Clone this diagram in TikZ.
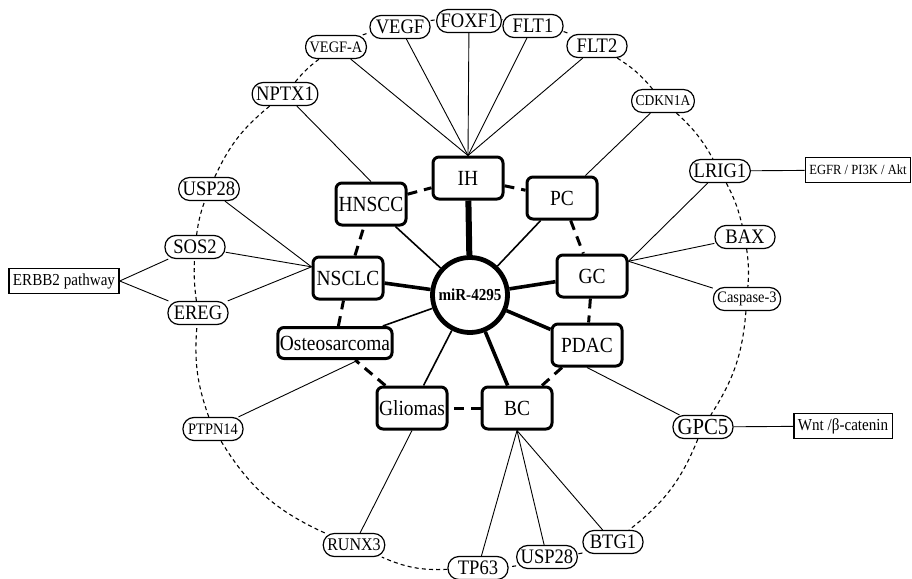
\documentclass[tikz,border=0pt]{standalone}
\usepackage{fontspec}
\setmainfont{Liberation Serif}[FakeStretch=0.9]

\begin{document}
\begin{tikzpicture}[
                hub/.style={
                    circle,
                    draw,
                    fill=white,
                    line width=2.4pt,
                    minimum size=37.5pt,
                    inner sep=0pt,
                    font=\bfseries\fontsize{8.4}{10}\selectfont
                },
                disease/.style={
                    rectangle,
                    draw,
                    fill=white,
                    rounded corners=3pt,
                    line width=1.5pt,
                    minimum width=35pt,
                    minimum height=21pt,
                    inner sep=1pt,
                    font=\fontsize{10.8}{12}\selectfont
                },
                gene/.style={
                    rectangle,
                    draw,
                    fill=white,
                    rounded corners=5.5pt,
                    line width=0.6pt,
                    minimum width=30pt,
                    minimum height=11.5pt,
                    inner xsep=2pt,
                    inner ysep=0.5pt,
                    font=\fontsize{10.3}{12}\selectfont
                },
                smallgene/.style={
                    gene,
                    font=\fontsize{8}{10}\selectfont
                },
                pathway/.style={
                    rectangle,
                    draw,
                    fill=white,
                    line width=0.7pt,
                    minimum height=12.5pt,
                    inner xsep=2pt,
                    inner ysep=0.5pt,
                    font=\fontsize{8.4}{10}\selectfont
                },
                ring/.style={
                    dash pattern=on 5pt off 3.5pt,
                    line width=1.5pt
                },
                orbit/.style={
                    dash pattern=on 2pt off 1.6pt,
                    line width=0.55pt
                },
                link/.style={
                    line width=0.45pt
                },
                x=0.5pt,
                y=0.5pt
            ]

        \useasboundingbox (0,0) rectangle (912,-579);

        % Centre
        \node[hub] (mir) at (470,-295) {miR-4295};

        % Diseases
        \node[disease] (ih) at (468,-178) {IH};
        \node[disease] (pc) at (562,-198) {PC};
        \node[disease] (gc) at (592,-276) {GC};
        \node[disease] (pdac) at (587,-345) {PDAC};
        \node[disease] (bc) at (517,-408) {BC};
        \node[disease] (gliomas) at (412,-408) {Gliomas};
        \node[disease, minimum height=15.5pt] (osteo) at (335,-343) {Osteosarcoma};
        \node[disease] (nsclc) at (348,-278) {NSCLC};
        \node[disease] (hnscc) at (371,-204) {HNSCC};

        % Targets, outer ring
        \node[gene] (foxf) at (469,-21) {FOXF1};
        \node[gene] (flta) at (533,-26) {FLT1};
        \node[gene] (fltb) at (597,-46) {FLT2};
        \node[smallgene, font=\fontsize{7.5}{9}\selectfont] (cdkn) at (663,-101) {CDKN1A};
        \node[gene] (lrig) at (720,-171) {LRIG1};
        \node[gene] (bax) at (745,-237) {BAX};
        \node[smallgene] (casp) at (747,-299) {Caspase-3};
        \node[gene, font=\fontsize{11.5}{13}\selectfont] (gpc) at (703,-427) {GPC5};
        \node[gene] (btg) at (613,-542) {BTG1};
        \node[gene] (uspb) at (547,-557) {USP28};
        \node[gene] (tp) at (478,-568) {TP63};
        \node[smallgene, font=\fontsize{8.9}{10}\selectfont] (runx) at (354,-545) {RUNX3};
        \node[smallgene] (ptpn) at (213,-429) {PTPN14};
        \node[gene] (ereg) at (198,-313) {EREG};
        \node[gene] (sos) at (195,-247) {SOS2};
        \node[gene] (uspa) at (209,-189) {USP28};
        \node[gene] (nptx) at (285,-94) {NPTX1};
        \node[smallgene] (vegfa) at (336,-47) {VEGF-A};
        \node[gene] (vegf) at (400,-27) {VEGF};

        % Pathways
        \node[pathway] (erbb) at (64,-281) {ERBB2 pathway};
        \node[pathway, font=\fontsize{7}{9}\selectfont] (egfr) at (858,-170) {EGFR / PI3K / Akt};
        \node[pathway] (wnt) at (843,-426) {Wnt /β-catenin};

        % Spokes
        \foreach \n/\w in {ih/3pt, pc/0.8pt, gc/1.8pt, pdac/1.8pt, bc/1.8pt,
                           gliomas/0.8pt, osteo/0.8pt, nsclc/1.8pt, hnscc/0.8pt}
            \draw[line width=\w] (mir) -- (\n);

        % Inner ring
        \foreach \a/\b in {ih/pc, pc/gc, gc/pdac, pdac/bc, bc/gliomas,
                           gliomas/osteo, osteo/nsclc, nsclc/hnscc, hnscc/ih}
            \draw[ring] (\a) -- (\b);

        % Outer ring
        \foreach \a/\b/\t in {foxf/flta/7, flta/fltb/7, fltb/cdkn/9, cdkn/lrig/9,
                              lrig/bax/7, bax/casp/6, casp/gpc/14, gpc/btg/15,
                              btg/uspb/7, uspb/tp/7, tp/runx/13, runx/ptpn/17,
                              ptpn/ereg/12, ereg/sos/5, sos/uspa/6, uspa/nptx/13,
                              nptx/vegfa/7, vegfa/vegf/7, vegf/foxf/7}
            \draw[orbit] (\a) to[bend left=\t] (\b);

        % Disease to target
        \foreach \g in {vegfa, vegf, foxf, flta, fltb}
            \draw[link] (ih.north) -- (\g);
        \draw[link] (hnscc.north) -- (nptx);
        \draw[link] (pc) -- (cdkn);
        \foreach \g in {lrig, bax, casp}
            \draw[link] (gc.22) -- (\g);
        \foreach \g in {uspa, sos, ereg}
            \draw[link] (nsclc.163) -- (\g);
        \draw[link] (osteo.-36) -- (ptpn);
        \draw[link] (gliomas.south) -- (runx);
        \foreach \g in {tp, uspb, btg}
            \draw[link] (bc.south) -- (\g);
        \draw[link] (pdac.south) -- (gpc);

        % Target to pathway
        \draw[link] (lrig) -- (egfr);
        \draw[link] (gpc) -- (wnt);
        \draw[link] (erbb.east) -- (sos);
        \draw[link] (erbb.east) -- (ereg);

\end{tikzpicture}
\end{document}
